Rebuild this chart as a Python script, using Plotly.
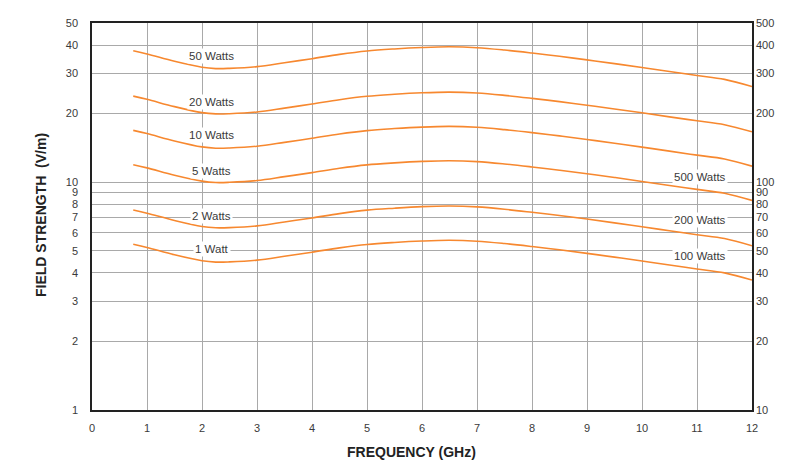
import math
import plotly.graph_objects as go

# Frequency samples (GHz)
freq = [0.75, 1, 1.5, 2, 2.25, 2.5, 3, 3.5, 4, 4.5, 5, 5.5, 6, 6.5, 7, 7.5, 8, 8.5, 9, 9.5, 10, 10.5, 11, 11.5, 12]

# Field strength (V/m) per power level
w1 = [5.34, 5.17, 4.80, 4.52, 4.46, 4.47, 4.55, 4.73, 4.93, 5.15, 5.33, 5.44, 5.52, 5.56, 5.51, 5.38, 5.22, 5.05, 4.87, 4.69, 4.51, 4.33, 4.16, 4.00, 3.72]
w2 = [7.55, 7.31, 6.79, 6.39, 6.31, 6.32, 6.43, 6.69, 6.97, 7.28, 7.54, 7.69, 7.81, 7.86, 7.79, 7.61, 7.38, 7.14, 6.89, 6.63, 6.38, 6.12, 5.88, 5.66, 5.26]
w5 = [11.94, 11.56, 10.73, 10.11, 9.97, 9.99, 10.17, 10.58, 11.02, 11.52, 11.92, 12.16, 12.34, 12.43, 12.32, 12.03, 11.67, 11.29, 10.89, 10.49, 10.08, 9.68, 9.30, 8.94, 8.32]
w10 = [16.89, 16.35, 15.18, 14.29, 14.10, 14.13, 14.39, 14.96, 15.59, 16.29, 16.85, 17.20, 17.46, 17.58, 17.42, 17.01, 16.51, 15.97, 15.40, 14.83, 14.26, 13.69, 13.15, 12.65, 11.76]
w20 = [23.88, 23.12, 21.47, 20.21, 19.95, 19.99, 20.35, 21.15, 22.05, 23.03, 23.84, 24.33, 24.69, 24.86, 24.64, 24.06, 23.34, 22.58, 21.78, 20.97, 20.17, 19.36, 18.60, 17.89, 16.64]
w50 = [37.76, 36.56, 33.94, 31.96, 31.54, 31.61, 32.17, 33.45, 34.86, 36.42, 37.69, 38.47, 39.03, 39.31, 38.96, 38.04, 36.91, 35.71, 34.44, 33.16, 31.89, 30.62, 29.41, 28.28, 26.31]

series = [w1, w2, w5, w10, w20, w50]

# Curve labels (left side, read on left axis)
left_labels = ["1 Watt", "2 Watts", "5 Watts", "10 Watts", "20 Watts", "50 Watts"]
left_label_x = 2.18
left_label_y = [5.07, 7.11, 11.15, 16.1, 22.5, 36.0]

# Curve labels (right side, read on right axis)
right_labels = ["100 Watts", "200 Watts", "500 Watts"]
right_label_x = 11.05
right_label_y = [47.4, 68.3, 105.5]

x_ticks = list(range(0, 13))
left_ticks = [1, 2, 3, 4, 5, 6, 7, 8, 9, 10, 20, 30, 40, 50]
right_ticks = [10, 20, 30, 40, 50, 60, 70, 80, 90, 100, 200, 300, 400, 500]

ORANGE = "#F7882F"
GRID = "#a9a9a9"
TEXT = "#3a3a3a"
FONT = "Liberation Sans, Arial, sans-serif"

# page body has an 8px margin: plot area should sit at x 92..752, y 17..410
W, H = 794, 452
L, R, T, B = 84, 50, 9, 50
PW, PH = W - L - R, H - T - B

fig = go.Figure()
for vals in series:
    fig.add_trace(go.Scatter(
        x=freq, y=vals, mode="lines",
        line=dict(color=ORANGE, width=1.6, shape="spline", smoothing=1.0),
        hoverinfo="skip", showlegend=False,
    ))

# invisible trace for right axis
fig.add_trace(go.Scatter(x=[0, 12], y=[10, 500], yaxis="y2", mode="lines",
                         line=dict(width=0, color="rgba(0,0,0,0)"),
                         hoverinfo="skip", showlegend=False))

for txt, yv in zip(left_labels, left_label_y):
    fig.add_annotation(x=left_label_x, y=math.log10(yv), xref="x", yref="y",
                       text=txt, showarrow=False, bgcolor="white",
                       font=dict(family=FONT, size=11.5, color=TEXT),
                       borderpad=1)
for txt, yv in zip(right_labels, right_label_y):
    fig.add_annotation(x=right_label_x, y=math.log10(yv), xref="x", yref="y2",
                       text=txt, showarrow=False, bgcolor="white",
                       font=dict(family=FONT, size=11.5, color=TEXT),
                       borderpad=1)

fig.add_annotation(x=(411 - 92) / PW, y=-(453 - 410) / PH, xref="paper", yref="paper",
                   text="<b>FREQUENCY (GHz)</b>", showarrow=False,
                   yanchor="middle", xanchor="center",
                   font=dict(family=FONT, size=14, color="#222"))
fig.add_annotation(x=(41 - 92) / PW, y=(410 - 212) / PH, xref="paper", yref="paper",
                   text="<b>FIELD STRENGTH  (V/m)</b>", showarrow=False,
                   textangle=-90, xanchor="center", yanchor="middle",
                   font=dict(family=FONT, size=14, color="#222"))

fig.update_layout(
    width=W, height=H,
    margin=dict(l=L, r=R, t=T, b=B),
    paper_bgcolor="white", plot_bgcolor="white",
    font=dict(family=FONT, size=11, color=TEXT),
    xaxis=dict(range=[0, 12], tickvals=x_ticks, ticktext=[str(t) for t in x_ticks],
               showgrid=True, gridcolor=GRID, gridwidth=1,
               showline=True, linecolor="#222", linewidth=1.5, mirror=True,
               ticks="", ticklabelstandoff=7, zeroline=False, fixedrange=True),
    yaxis=dict(type="log", range=[0, math.log10(50)], tickvals=left_ticks,
               ticktext=[str(t) for t in left_ticks],
               showgrid=True, gridcolor=GRID, gridwidth=1,
               showline=True, linecolor="#222", linewidth=1.5, mirror=True,
               ticks="", ticklabelstandoff=10, zeroline=False),
    yaxis2=dict(type="log", range=[1, math.log10(500)], tickvals=right_ticks,
                ticktext=[str(t) for t in right_ticks], overlaying="y", side="right",
                showgrid=False, showline=False, ticks="", ticklabelstandoff=3,
                zeroline=False),
)

fig.write_html("out.html")
